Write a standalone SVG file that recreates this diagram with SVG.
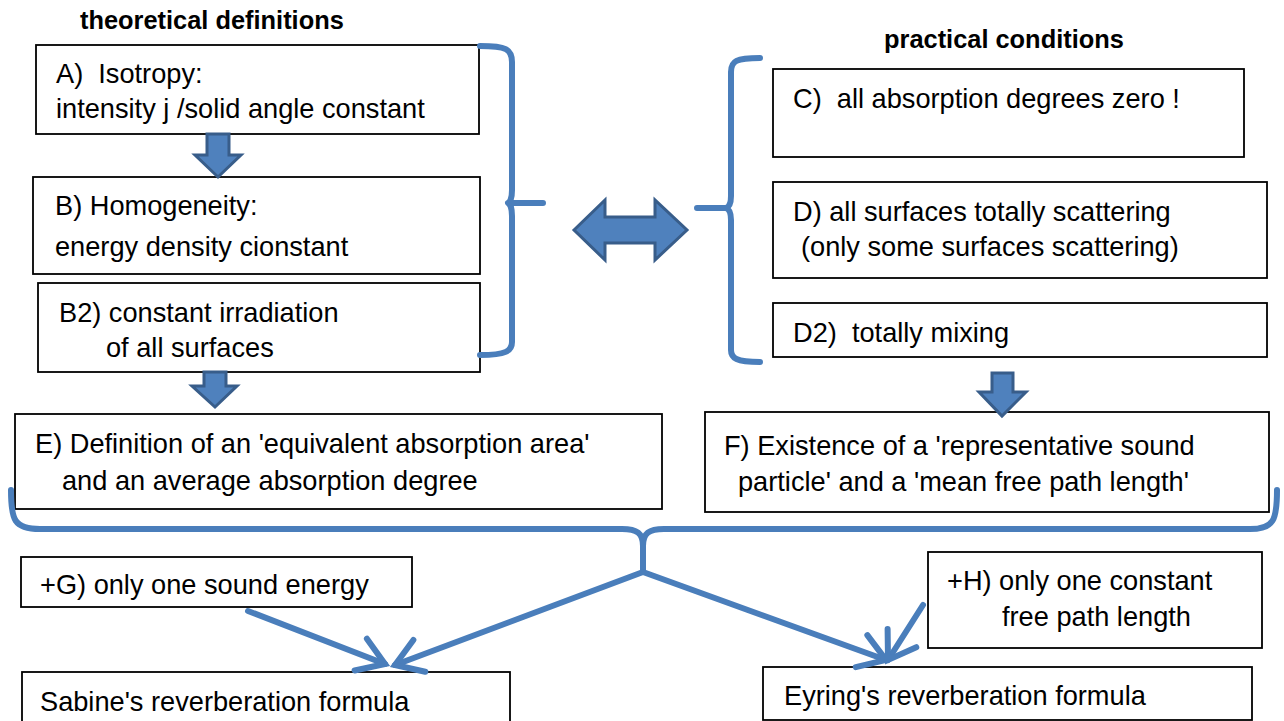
<svg xmlns="http://www.w3.org/2000/svg" width="1284" height="721" viewBox="0 0 1284 721">
<defs>
<style>
.box{fill:#fff;stroke:#000;stroke-width:1.8}
.t{font-family:"Liberation Sans",Arial,sans-serif;font-size:27.2px;fill:#000;white-space:pre}
.h{font-family:"Liberation Sans",Arial,sans-serif;font-size:25.4px;font-weight:bold;fill:#000}
.br{fill:none;stroke:#4A7EBB;stroke-width:6;stroke-linecap:round;stroke-linejoin:round}
.blk{fill:#4F81BD;stroke:#385D8A;stroke-width:3;stroke-linejoin:miter}
</style>
<marker id="vh" markerUnits="userSpaceOnUse" viewBox="-30 -20 34 40" markerWidth="34" markerHeight="40" refX="0" refY="0" orient="auto" overflow="visible">
<path d="M-26,-17 L0,0 L-26,17" fill="none" stroke="#4A7EBB" stroke-width="6" stroke-linecap="round" stroke-linejoin="miter"/>
</marker>
</defs>
<rect width="1284" height="721" fill="#fff"/>

<text class="h" x="80" y="29">theoretical definitions</text>
<text class="h" x="884" y="48">practical conditions</text>

<g id="nodeA"><rect class="box" x="36" y="45" width="443" height="89"/>
<text class="t" x="56" y="83" xml:space="preserve">A)  Isotropy:</text>
<text class="t" x="56" y="118">intensity j /solid angle constant</text></g>

<g id="nodeB"><rect class="box" x="33" y="177" width="447" height="97"/>
<text class="t" x="55" y="215">B) Homogeneity:</text>
<text class="t" x="55" y="256">energy density cionstant</text></g>

<g id="nodeB2"><rect class="box" x="38" y="283" width="442" height="89"/>
<text class="t" x="59" y="322">B2) constant irradiation</text>
<text class="t" x="106" y="357">of all surfaces</text></g>

<g id="nodeC"><rect class="box" x="773" y="69" width="471" height="88"/>
<text class="t" x="793" y="108" xml:space="preserve">C)  all absorption degrees zero !</text></g>

<g id="nodeD"><rect class="box" x="773" y="182" width="494" height="96"/>
<text class="t" x="793" y="221">D) all surfaces totally scattering</text>
<text class="t" x="801" y="256">(only some surfaces scattering)</text></g>

<g id="nodeD2"><rect class="box" x="773" y="303" width="494" height="54"/>
<text class="t" x="793" y="342" xml:space="preserve">D2)  totally mixing</text></g>

<g id="nodeE"><rect class="box" x="15" y="414" width="647" height="95"/>
<text class="t" x="35" y="453">E) Definition of an 'equivalent absorption area'</text>
<text class="t" x="62" y="490">and an average absorption degree</text></g>

<g id="nodeF"><rect class="box" x="705" y="412" width="564" height="100"/>
<text class="t" x="724" y="455">F) Existence of a 'representative sound</text>
<text class="t" x="738" y="491">particle' and a 'mean free path length'</text></g>

<g id="nodeG"><rect class="box" x="21" y="557" width="391" height="50"/>
<text class="t" x="40" y="594">+G) only one sound energy</text></g>

<g id="nodeH"><rect class="box" x="928" y="552" width="334" height="96"/>
<text class="t" x="947" y="590">+H) only one constant</text>
<text class="t" x="1002" y="626">free path length</text></g>

<g id="nodeSabine"><rect class="box" x="22" y="672" width="488" height="60"/>
<text class="t" x="40" y="711">Sabine's reverberation formula</text></g>

<g id="nodeEyring"><rect class="box" x="763" y="667" width="489" height="53"/>
<text class="t" x="784" y="705">Eyring's reverberation formula</text></g>

<g id="connectors">
<path class="br" d="M480,46 C506,46 512,49 512,62 L512,190 C512,198 510,202 508,203 C510,204 512,208 512,216 L512,342 C512,351 506,355 480,355 M510,203 L543,203"/>
<path class="br" d="M760,58 C736,58 731,61 731,72 L731,196 C731,203 729,207 726,208 C729,209 731,213 731,220 L731,350 C731,358 736,362 760,362 M726,208 L697,208"/>
<path class="br" d="M11,490 C11,520 14,529 40,529 L622,529 C637,529 643,533 643,546 C643,533 649,529 664,529 L1250,529 C1274,529 1277,520 1277,490 M643,546 L643,572"/>
<path class="br" d="M643,572 L395,665" marker-end="url(#vh)"/>
<path class="br" d="M643,572 L886,660" marker-end="url(#vh)"/>
<path class="br" d="M248,611 L385,664" marker-end="url(#vh)"/>
<path class="br" d="M923,605 L888,660" marker-end="url(#vh)"/>
<polygon class="blk" points="207,134 229,134 229,155 241,155 218,177 195,155 207,155"/>
<polygon class="blk" points="204,372 226,372 226,386 237,386 215,407 192,386 204,386"/>
<polygon class="blk" points="992,373 1013,373 1013,392 1026,392 1002,416 979,392 992,392"/>
<polygon class="blk" points="574,230 605,200 605,217 655,217 655,200 687,230 655,260 655,243 605,243 605,260"/>
</g>
</svg>
